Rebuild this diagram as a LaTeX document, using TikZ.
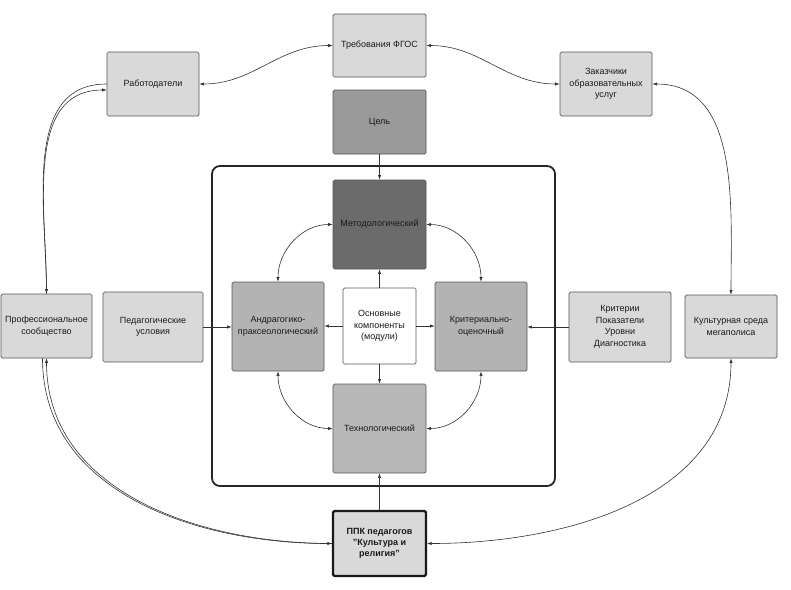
\documentclass[tikz,border=0pt]{standalone}
\usepackage{fontspec}
\setmainfont{Liberation Sans}
\usetikzlibrary{arrows.meta}
\definecolor{lite}{HTML}{D9D9D9}
\definecolor{midg}{HTML}{9A9A9A}
\definecolor{darkg}{HTML}{6B6B6B}
\definecolor{compg}{HTML}{B3B3B3}
\definecolor{techg}{HTML}{B8B8B8}
\definecolor{bordc}{HTML}{555555}
\definecolor{linec}{HTML}{333333}
\definecolor{txtc}{HTML}{1A1A1A}
\begin{document}
\begin{tikzpicture}[x=1pt,y=1pt,
  box/.style={draw=bordc, line width=0.7pt, rounded corners=1.5pt, align=center,
    inner sep=1pt, font=\fontsize{9}{11.5}\selectfont, text=txtc},
  conn/.style={draw=linec, line width=0.6pt},
  tp/.tip={Latex[length=4.5pt,width=3.2pt]}]
\useasboundingbox (0,0) rectangle (791,-589);
% container
\node[draw=black!85, line width=1.8pt, rounded corners=8pt, minimum width=343pt, minimum height=320pt] (cont) at (383.5,-326) {};
% nodes
\node[box, fill=lite, minimum width=93pt, minimum height=63pt] (fgos) at (379.5,-45.5) {Требования ФГОС};
\node[box, fill=lite, minimum width=92pt, minimum height=64pt] (rab) at (153,-84) {Работодатели};
\node[box, fill=lite, minimum width=92pt, minimum height=64pt] (zak) at (606,-84) {Заказчики\\образовательных\\услуг};
\node[box, fill=midg, minimum width=93pt, minimum height=64pt] (cel) at (379.5,-122) {Цель};
\node[box, fill=darkg, minimum width=93pt, minimum height=89pt] (met) at (379.5,-224.5) {Методологический};
\node[box, fill=compg, minimum width=92pt, minimum height=89pt] (andr) at (278,-326.5) {Андрагогико-\\праксеологический};
\node[box, fill=white, minimum width=73pt, minimum height=76pt] (osn) at (379.5,-326) {Основные\\компоненты\\(модули)};
\node[box, fill=compg, minimum width=92pt, minimum height=89pt] (krit) at (481,-326.5) {Критериально-\\оценочный};
\node[box, fill=techg, minimum width=93pt, minimum height=89pt] (tech) at (379.5,-428.5) {Технологический};
\node[box, fill=lite, draw=black!90, line width=2.2pt, minimum width=93pt, minimum height=65pt, font=\fontsize{9}{11}\selectfont\bfseries] (ppk) at (379.5,-543.5) {ППК педагогов\\"Культура и\\религия"};
\node[box, fill=lite, minimum width=91pt, minimum height=64pt] (prof) at (46.5,-326) {Профессиональное\\сообщество};
\node[box, fill=lite, minimum width=100pt, minimum height=70pt] (ped) at (153,-327) {Педагогические\\условия};
\node[box, fill=lite, minimum width=102pt, minimum height=70pt] (kritp) at (620,-327) {Критерии\\Показатели\\Уровни\\Диагностика};
\node[box, fill=lite, minimum width=92pt, minimum height=63pt] (kult) at (731,-326.5) {Культурная среда\\мегаполиса};
% outer connectors
\draw[conn, tp-tp] (fgos.west) to[out=180,in=0] (rab.east);
\draw[conn, tp-tp] (fgos.east) to[out=0,in=180] (zak.west);
\draw[conn, tp-tp] (zak.east) to[out=0,in=90] (kult.north);
\draw[conn, tp-tp] (kult.south) to[out=-90,in=0] (ppk.east);
\draw[conn, -tp] (rab.west) to[out=180,in=90] (prof.north);
\draw[conn, -tp] (prof.north) to[out=90,in=180] ([yshift=-6pt]rab.west);
\draw[conn, -tp] (ppk.west) to[out=180,in=-90] (prof.south);
\draw[conn, -tp] ([xshift=-4pt]prof.south) to[out=-90,in=180] (ppk.west);
% straight connectors
\draw[conn, -tp] (cel.south) -- (met.north);
\draw[conn, -tp] (osn.north) -- (met.south);
\draw[conn, -tp] (osn.west) -- (osn.west -| andr.east);
\draw[conn, -tp] (osn.east) -- (osn.east -| krit.west);
\draw[conn, -tp] (osn.south) -- (tech.north);
\draw[conn, -tp] (ped.east) -- (ped.east -| andr.west);
\draw[conn, -tp] (kritp.west) -- (kritp.west -| krit.east);
\draw[conn, -tp] (ppk.north) -- (tech.south);
% inner curves
\draw[conn, tp-tp] (met.west) to[out=180,in=90] (andr.north);
\draw[conn, tp-tp] (met.east) to[out=0,in=90] (krit.north);
\draw[conn, tp-tp] (andr.south) to[out=-90,in=180] (tech.west);
\draw[conn, tp-tp] (krit.south) to[out=-90,in=0] (tech.east);
\end{tikzpicture}
\end{document}
